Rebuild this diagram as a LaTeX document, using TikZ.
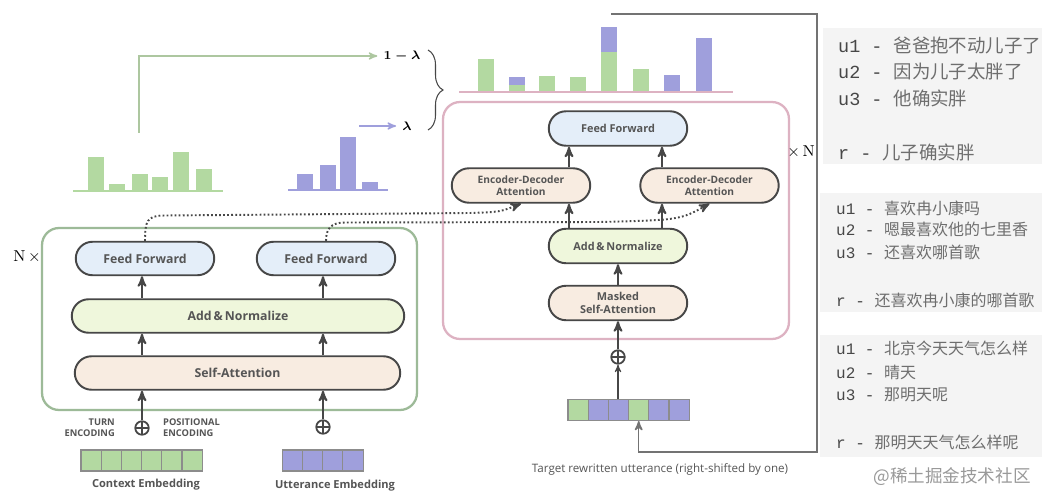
\documentclass[tikz,border=0pt]{standalone}
\usepackage{amssymb,amsmath}
\usepackage{fontspec}
\setsansfont{Open Sans}
\setmonofont{Liberation Mono}
\newfontfamily\cjk{Noto Sans CJK SC}
\usepackage{tikz}
\usetikzlibrary{arrows,shapes.misc,positioning,decorations.pathreplacing}

\definecolor{ink}{HTML}{474747}
\definecolor{txt}{HTML}{555555}
\definecolor{zhgray}{HTML}{6E6E6E}
\definecolor{grn}{HTML}{B3D9A1}
\definecolor{pur}{HTML}{9F9FDC}
\definecolor{ffblue}{HTML}{E4EEF9}
\definecolor{anyel}{HTML}{EFF7DC}
\definecolor{sapeach}{HTML}{F8ECE1}
\definecolor{encgrn}{HTML}{9DBA98}
\definecolor{decpink}{HTML}{DDB2C2}
\definecolor{panel}{HTML}{F4F4F4}

\begin{document}
\begin{tikzpicture}[x=0.02cm,y=-0.02cm,>=stealth',
  enc node/.style={rounded rectangle,draw=ink,line width=1.1pt,text=txt,font=\sffamily\bfseries\fontsize{7}{8}\selectfont,minimum height=0.67cm,inner sep=1pt},
  dec node/.style={enc node,font=\sffamily\bfseries\fontsize{6.2}{7.2}\selectfont,minimum height=0.69cm,minimum width=2.84cm},
  cell/.style={draw=black!45,line width=0.6pt,minimum width=0.404cm,minimum height=0.42cm,inner sep=0pt},
  sum/.style={circle,draw=ink,line width=1pt,minimum size=0.27cm,inner sep=0pt,path picture={\draw[ink,line width=0.8pt] (path picture bounding box.north) -- (path picture bounding box.south) (path picture bounding box.west) -- (path picture bounding box.east);}},
  arr/.style={->,draw=ink,line width=1.1pt},
  feed/.style={->,draw=ink,line width=1.1pt,dash pattern=on 1pt off 1.3pt},
  lbl/.style={text=txt,font=\sffamily\bfseries\fontsize{6.3}{7}\selectfont},
  tiny lbl/.style={text=txt,font=\sffamily\bfseries\fontsize{5.3}{6.4}\selectfont},
  big row/.style={anchor=west,text=ink,font=\ttfamily\fontsize{10.5}{12}\selectfont},
  small row/.style={anchor=west,text=ink,font=\ttfamily\fontsize{9.1}{11}\selectfont}]
  \useasboundingbox (0,0) rectangle (1048,503);
  \fill[white] (0,0) rectangle (1048,503);

  % encoder
  \node[draw=encgrn,line width=1.3pt,rounded corners=0.34cm,minimum width=7.5cm,minimum height=3.64cm] (enc) at (229.5,319) {};
  \node (nx) at (27,257) {\fontsize{9}{10}\selectfont N\,$\times$};
  \node[enc node,fill=ffblue,minimum width=2.84cm] (ff1) at (145,258.5) {Feed Forward};
  \node[enc node,fill=ffblue,minimum width=2.84cm] (ff2) at (326,258.5) {Feed Forward};
  \node[enc node,fill=anyel,minimum width=6.72cm] (an) at (238,316) {Add\,\&\,Normalize};
  \node[enc node,fill=sapeach,minimum width=6.58cm] (sa) at (237.5,373) {Self-Attention};
  \node[sum] (cplus) at (142,428) {};
  \node[sum] (uplus) at (323,427) {};
  \node[tiny lbl,align=right,anchor=east] (turn) at (121,428) {TURN\\ENCODING};
  \node[tiny lbl,align=left,anchor=west] (pos) at (157,428) {POSITIONAL\\ENCODING};
  \foreach \i in {1,...,6}
    \node[cell,fill=grn] (c\i) at (70.9+20.2*\i,460.5) {};
  \foreach \i in {1,...,4}
    \node[cell,fill=pur] (u\i) at (273+20*\i,460.5) {};
  \node[lbl] (ctx) at (146,485) {Context Embedding};
  \node[lbl] (utt) at (335,486) {Utterance Embedding};

  \draw[arr] (cplus.north) -- (cplus |- sa.south);
  \draw[arr] (uplus.north) -- (uplus |- sa.south);
  \draw[arr] (cplus |- sa.north) -- (cplus |- an.south);
  \draw[arr] (uplus |- sa.north) -- (uplus |- an.south);
  \draw[arr] (cplus |- an.north) -- (cplus |- ff1.south);
  \draw[arr] (uplus |- an.north) -- (uplus |- ff2.south);

  % bars over the encoder
  \draw[grn,line width=1pt] (73,191) -- (223,191);
  \foreach \x/\t in {88/157,109/184,132/174,152/177,173/152,196/169}
    \fill[grn] (\x,190.5) rectangle (\x+15.5,\t);
  \draw[pur,line width=1pt] (288,190) -- (388,190);
  \foreach \x/\t in {297/174,320/165,340/137,362/182}
    \fill[pur] (\x,189.5) rectangle (\x+15.5,\t);
  \node (oml) at (402,56) {\fontsize{7}{8}\selectfont$\boldsymbol{1-\lambda}$};
  \node (lam) at (407,126) {\fontsize{7}{8}\selectfont$\boldsymbol{\lambda}$};
  \coordinate (gfrom) at (139,133);
  \coordinate (pfrom) at (359,126);
  \draw[->,draw=grn!85!black!80,line width=0.8pt] (gfrom) |- (oml.west);
  \draw[->,draw=pur,line width=0.8pt] (pfrom) -- (lam.west);
  \draw[ink,line width=0.6pt,decorate,decoration={brace,amplitude=0.3cm}] (428,50) -- (428,130);

  % decoder
  \node[draw=decpink,line width=1.3pt,rounded corners=0.34cm,minimum width=6.92cm,minimum height=4.74cm] (dec) at (616,220.5) {};
  \draw[decpink,line width=1pt] (459,92) -- (733,92);
  \foreach \x/\t in {478/59,509/85,539/76,570/77,601/52,633/69}
    \fill[grn] (\x,91.5) rectangle (\x+15.5,\t);
  \foreach \x/\t/\b in {509/77/85,601/27/52,664/75/91.5,696/38/91.5}
    \fill[pur] (\x,\b) rectangle (\x+15.5,\t);
  \node[dec node,fill=ffblue] (dff) at (618,128.5) {Feed Forward};
  \node[dec node,fill=sapeach,align=center,font=\sffamily\bfseries\fontsize{5.8}{6.8}\selectfont] (eda1) at (521,185.5) {Encoder-Decoder\\Attention};
  \node[dec node,fill=sapeach,align=center,font=\sffamily\bfseries\fontsize{5.8}{6.8}\selectfont] (eda2) at (709.5,185.5) {Encoder-Decoder\\Attention};
  \node[dec node,fill=anyel] (dan) at (618,246) {Add\,\&\,Normalize};
  \node[dec node,fill=sapeach,align=center] (msa) at (618,303) {Masked\\Self-Attention};
  \node[sum] (dplus) at (618,357) {};
  \foreach \c [count=\i] in {grn,pur,pur,grn,pur,pur}
    \node[cell,fill=\c] (d\i) at (557.9+20.2*\i,410) {};
  \node[text=txt,font=\sffamily\fontsize{6.6}{8}\selectfont] (tgt) at (660,469) {Target rewritten utterance (right-shifted by one)};
  \node (xn) at (801,152) {\fontsize{9}{10}\selectfont$\times$\,N};
  \coordinate (la) at (569,240);
  \coordinate (lb) at (662,240);

  \draw[->,draw=ink,line width=0.6pt] (dplus |- d3.north) -- (dplus.south);
  \draw[arr] (dplus.north) -- (msa.south);
  \draw[arr] (msa.north) -- (dan.south);
  \draw[arr] (la |- dan.north) -- (la |- eda1.south);
  \draw[arr] (lb |- dan.north) -- (lb |- eda2.south);
  \draw[arr] (la |- eda1.north) -- (la |- dff.south);
  \draw[arr] (lb |- eda2.north) -- (lb |- dff.south);

  % encoder outputs into the decoder
  \draw[feed] (ff1.north) .. controls +(0,-20) and +(-18,0) .. (165,215.5) -- (470,213) .. controls (500,212) .. (eda1.south);
  \draw[feed] (ff2.north) .. controls +(0,-12) and +(-14,0) .. (345,222.5) -- (600,222) .. controls (680,220) .. (eda2.south);

  % output fed back as next input
  \coordinate (fb) at (611,14);
  \coordinate (fbc) at (817,452);
  \draw[->,draw=black!55,line width=0.9pt] (fb) -- (fb -| fbc) -- (fbc) -| (d4.south);

  % examples
  \fill[panel] (823,28) rectangle (1042,164);
  \fill[panel] (820,193) rectangle (1042,312);
  \fill[panel] (820,335) rectangle (1042,457);
  \node[big row] (a1) at (832,45) {u1 - {\cjk\color{zhgray}爸爸抱不动儿子了}};
  \node[big row] (a2) at (832,72) {u2 - {\cjk\color{zhgray}因为儿子太胖了}};
  \node[big row] (a3) at (832,98) {u3 - {\cjk\color{zhgray}他确实胖}};
  \node[big row] (ar) at (832,152) {r - {\cjk\color{zhgray}儿子确实胖}};
  \node[small row] (b1) at (830,208) {u1 - {\cjk\color{zhgray}喜欢冉小康吗}};
  \node[small row] (b2) at (830,229) {u2 - {\cjk\color{zhgray}嗯最喜欢他的七里香}};
  \node[small row] (b3) at (830,252) {u3 - {\cjk\color{zhgray}还喜欢哪首歌}};
  \node[small row] (br) at (830,300) {r - {\cjk\color{zhgray}还喜欢冉小康的哪首歌}};
  \node[small row] (e1) at (830,348) {u1 - {\cjk\color{zhgray}北京今天天气怎么样}};
  \node[small row] (e2) at (830,372) {u2 - {\cjk\color{zhgray}晴天}};
  \node[small row] (e3) at (830,395) {u3 - {\cjk\color{zhgray}那明天呢}};
  \node[small row] (er) at (830,442) {r - {\cjk\color{zhgray}那明天天气怎么样呢}};
  \node[text=black!40,font=\cjk\fontsize{10}{12}\selectfont] (wm) at (952,477) {@稀土掘金技术社区};
\end{tikzpicture}
\end{document}
